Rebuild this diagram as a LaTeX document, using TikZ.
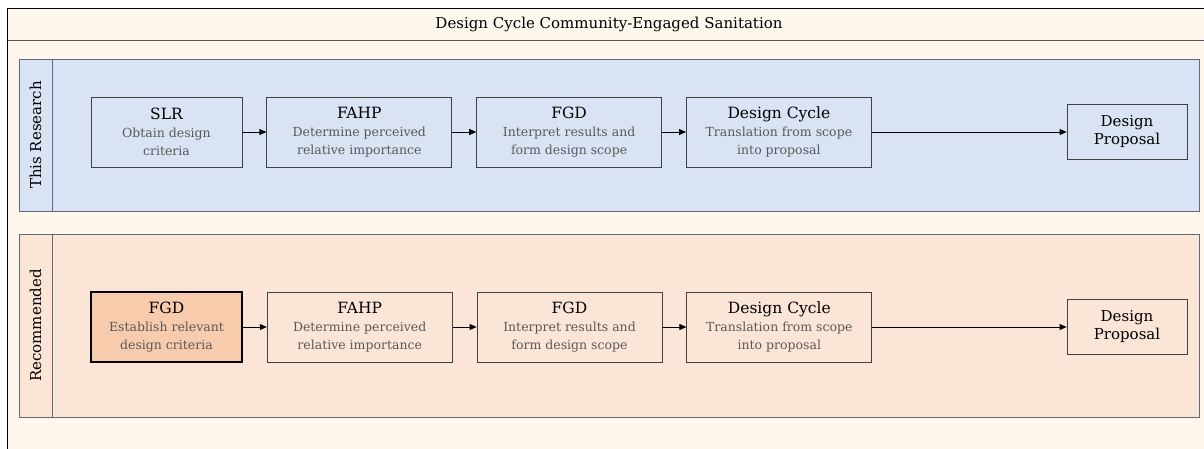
\documentclass[tikz,border=0pt]{standalone}
\usepackage{fontspec}
\setmainfont{DejaVu Serif}
\usetikzlibrary{arrows.meta, positioning, calc}
\definecolor{cCream}{HTML}{FEF8EC}
\definecolor{cBlue}{HTML}{DAE3F3}
\definecolor{cPeach}{HTML}{FBE5D6}
\definecolor{cHigh}{HTML}{F8CBAD}
\definecolor{cLane}{HTML}{5E6A7E}
\definecolor{cDesc}{HTML}{595959}
\tikzset{
	stepbox/.style={rectangle, draw=black!75, line width=0.8pt, minimum width=185pt, minimum height=70pt, align=center, inner sep=2pt, text=cDesc, font=\fontsize{12.5}{18}\selectfont},
	endbox/.style={rectangle, draw=black!75, line width=0.8pt, minimum width=120pt, minimum height=55pt, align=center, inner sep=2pt, font=\fontsize{15}{18}\selectfont},
	lane/.style={rectangle, draw=cLane, line width=1pt, inner sep=0pt},
	lanetag/.style={rectangle, draw=cLane, line width=1pt, inner sep=0pt, rotate=90, minimum height=33pt, font=\fontsize{15}{18}\selectfont},
	flowarrow/.style={-{Triangle[length=7pt, width=6pt]}, line width=0.8pt},
}
\newcommand{\stagetext}[2]{{\color{black}\fontsize{15.5}{18}\selectfont #1}\\#2}

\begin{document}
\begin{tikzpicture}[x=1pt, y=-1pt]
	\clip (0,0) rectangle (1204,448);
	% outer frame and title
	\draw[fill=cCream, line width=0.9pt] (7.5,8) rectangle (1230,470);
	\draw[line width=1pt, draw=black!65] (7.5,40) -- (1230,40);
	\node[font=\fontsize{15}{18}\selectfont] (title) at (609,24) {Design Cycle Community-Engaged Sanitation};

	% lane: this research
	\node[lane, fill=cBlue, minimum width=1180pt, minimum height=152pt] (laneA) at (609,135) {};
	\node[lanetag, fill=cBlue, minimum width=152pt] (tagA) at (35.5,135) {This Research};
	\node[stepbox, minimum width=151pt] (slrA) at (166.5,132) {\stagetext{SLR}{Obtain design\\criteria}};
	\node[stepbox, right=24pt of slrA] (fahpA) {\stagetext{FAHP}{Determine perceived\\relative importance}};
	\node[stepbox, right=24pt of fahpA] (fgdA) {\stagetext{FGD}{Interpret results and\\form design scope}};
	\node[stepbox, right=24pt of fgdA] (cycleA) {\stagetext{Design Cycle}{Translation from scope\\into proposal}};
	\node[endbox] (propA) at (1127,132) {Design\\Proposal};
	\draw[flowarrow] (slrA) -- (fahpA);
	\draw[flowarrow] (fahpA) -- (fgdA);
	\draw[flowarrow] (fgdA) -- (cycleA);
	\draw[flowarrow] (cycleA) -- (propA);

	% lane: recommended
	\node[lane, fill=cPeach, minimum width=1180pt, minimum height=183pt] (laneB) at (609,325.5) {};
	\node[lanetag, fill=cPeach, minimum width=183pt] (tagB) at (35.5,325.5) {Recommended};
	\node[stepbox, minimum width=151pt, fill=cHigh, draw=black, line width=1.6pt] (fgdB0) at (166.5,327) {\stagetext{FGD}{Establish relevant\\design criteria}};
	\node[stepbox, right=24pt of fgdB0] (fahpB) {\stagetext{FAHP}{Determine perceived\\relative importance}};
	\node[stepbox, right=24pt of fahpB] (fgdB) {\stagetext{FGD}{Interpret results and\\form design scope}};
	\node[stepbox, right=24pt of fgdB] (cycleB) {\stagetext{Design Cycle}{Translation from scope\\into proposal}};
	\node[endbox] (propB) at (1127,327) {Design\\Proposal};
	\draw[flowarrow] (fgdB0) -- (fahpB);
	\draw[flowarrow] (fahpB) -- (fgdB);
	\draw[flowarrow] (fgdB) -- (cycleB);
	\draw[flowarrow] (cycleB) -- (propB);
\end{tikzpicture}
\end{document}
